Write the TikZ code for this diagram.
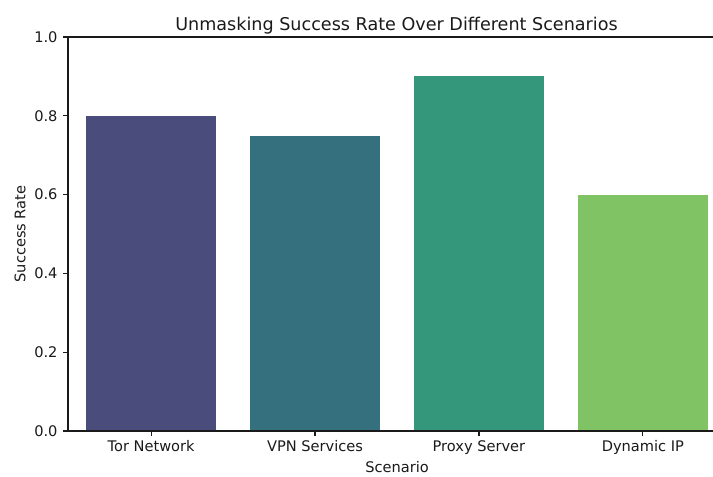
\documentclass[tikz,border=0pt]{standalone}
\usepackage{fontspec}
\setmainfont{DejaVu Sans}
\definecolor{cTor}{HTML}{4A4C7C}
\definecolor{cVpn}{HTML}{35707F}
\definecolor{cProxy}{HTML}{34967A}
\definecolor{cDyn}{HTML}{80C364}
\definecolor{txt}{HTML}{1A1A1A}
\begin{document}
\begin{tikzpicture}[x=0.01in,y=-0.01in,
  spine/.style={line width=0.8pt,draw=txt},
  tickmark/.style={line width=0.8pt,draw=txt},
  ticklab/.style={font=\fontsize{10.55}{12}\selectfont,text=txt,inner sep=0pt}]
\useasboundingbox[fill=white] (0,0) rectangle (713,476);
% bars
\fill[cTor]   (86,431) rectangle (216.3,115.8);
\fill[cVpn]   (249.9,431) rectangle (380.2,135.5);
\fill[cProxy] (413.8,431) rectangle (544.2,76.4);
\fill[cDyn]   (577.7,431) rectangle (708.1,194.6);
% spines
\draw[spine] (68,37) -- (725,37);
\draw[spine] (68,431) -- (725,431);
\draw[spine] (68,37) -- (68,431);
% y ticks
\foreach \v/\l in {0/0.0,0.2/0.2,0.4/0.4,0.6/0.6,0.8/0.8,1/1.0}{
  \draw[tickmark] (63.1,{431-\v*394}) -- (68,{431-\v*394});
  \node[ticklab,anchor=east] at (57.8,{431-\v*394}) {\l};
}
% x ticks
\foreach \c/\l in {151.15/Tor Network,315.05/VPN Services,478.95/Proxy Server,642.9/Dynamic IP}{
  \draw[tickmark] (\c,431) -- (\c,435.9);
  \node[ticklab,anchor=base] at (\c,451.7) {\l};
}
\node[ticklab,anchor=base] (xl) at (397,472.7) {Scenario};
\node[ticklab,rotate=90] (yl) at (20,234) {Success Rate};
\node[font=\fontsize{12.7}{14}\selectfont,text=txt,inner sep=0pt,anchor=base] (title) at (396.5,30) {Unmasking Success Rate Over Different Scenarios};
\end{tikzpicture}
\end{document}
